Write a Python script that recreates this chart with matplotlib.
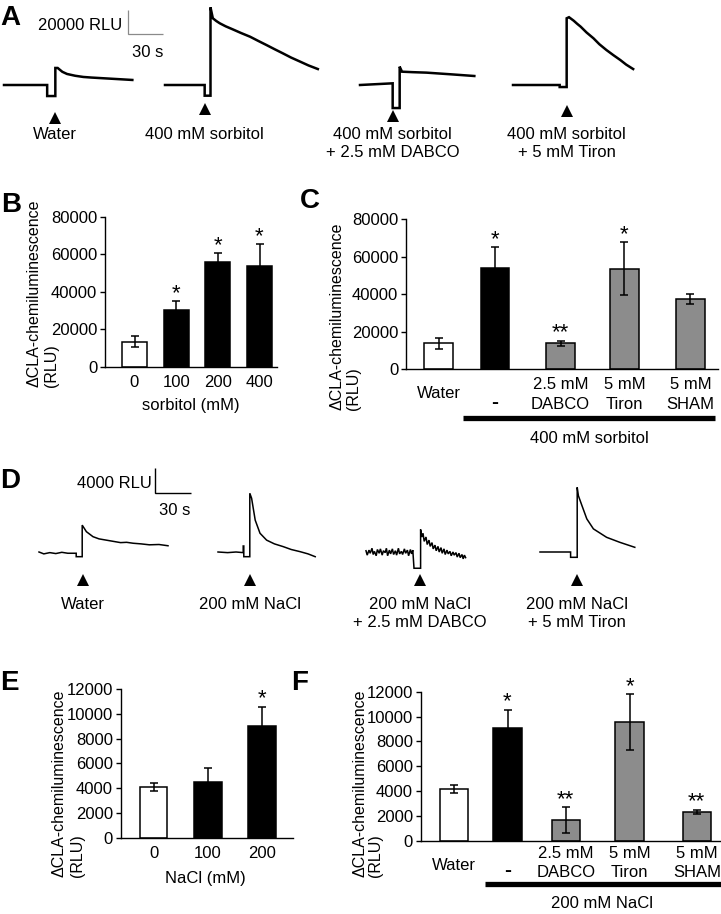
import numpy as np
import matplotlib
matplotlib.use("Agg")
import matplotlib.pyplot as plt
from matplotlib.lines import Line2D

plt.rcParams['font.family'] = ['Liberation Sans', 'DejaVu Sans']
plt.rcParams['axes.linewidth'] = 1.0
FS = 12

# ---------------- data ----------------
# Panel A: chemiluminescence traces (time in s, RLU above baseline)
a_water_t = [0, 37, 37, 44, 44, 46, 50, 54, 61, 68, 75, 82, 96, 110]
a_water_rlu = [0, 0, -9200, -9200, 14200, 14200, 11000, 9200, 7700, 6700, 6200, 5800, 5000, 4200]
a_sorb_t = [0, 34, 34, 39, 39, 41, 44, 47, 52, 58, 65, 73, 80, 87, 94, 101, 108, 116, 123, 131]
a_sorb_rlu = [0, 0, -8900, -8900, 64700, 55600, 53300, 51400, 48900, 46400, 43400, 40200, 36700,
              33300, 29800, 26400, 22900, 19400, 16300, 13300]
a_dabco_t = [0, 28, 28, 34, 34, 36, 45, 57, 78, 98]
a_dabco_rlu = [0, 1400, -19200, -19200, 15300, 11100, 10700, 10300, 8900, 7500]
a_tiron_t = [0, 40, 40, 46, 46, 48, 52, 55, 58, 63, 69, 74, 80, 86, 92, 97, 103]
a_tiron_rlu = [0, 0, -1700, -1700, 55600, 56500, 53600, 51000, 48600, 43800, 38900, 34000, 29200,
               24900, 20800, 17000, 13300]
a_inject_t = [44, 34, 28, 46]
a_labels = ["Water", "400 mM sorbitol", "400 mM sorbitol\n+ 2.5 mM DABCO",
            "400 mM sorbitol\n+ 5 mM Tiron"]

# Panel D: chemiluminescence traces (time in s, RLU above baseline)
d_water_t = [0, 4, 9, 14, 19, 24, 31, 31, 36, 36, 39.5, 45, 50, 56, 62, 68, 73, 78.5, 85, 92, 100, 107.5]
d_water_rlu = [0, -300, -100, -250, -50, -200, -200, -750, -750, 4300, 3250, 2450, 2100, 1900, 1700, 1500,
               1550, 1400, 1300, 1150, 1200, 1000]
d_nacl_t = [0, 8, 15, 21, 21, 21.5, 21.5, 26.5, 26.5, 28, 31, 35, 40.5, 47, 54.5, 61, 68.5, 75, 81]
d_nacl_rlu = [0, -100, 0, -100, 960, 960, -750, -750, 9400, 8600, 5100, 3000, 1900, 1300, 850, 400, 50, -300, -750]
d_dabco_t = [0, 1, 2.5, 3.5, 5, 6, 7, 8.5, 9.5, 11, 12, 13.5, 14.5, 16, 17, 18, 19.5, 20.5, 22, 23,
             24.5, 25.5, 27, 28, 29.5, 30.5, 32, 33, 34.5, 35.5, 37, 38, 39, 40, 45.5, 45.5, 46.5, 47.5,
             48.5, 50, 51, 52.5, 53.5, 55, 56, 57.5, 58.5, 60, 61, 62.5, 63.5, 65, 66, 67.5, 68.5, 70,
             71, 72.5, 73.5, 75, 76, 77.5, 78.5, 80, 81, 82, 83]
d_dabco_rlu = [200, -500, 300, -200, 600, -400, 100, -600, 400, -200, 500, -500, 200, -100, 600, -600,
               300, -300, 500, -400, 200, -500, 600, -300, 100, -400, 500, -200, 300, -600, 400, -300,
               300, -2600, -2600, 3600, 2400, 3000, 1700, 2400, 1200, 1900, 900, 1500, 500, 1100, 200,
               900, 0, 700, -200, 500, -400, 300, -300, 100, -600, 0, -500, -100, -800, -200, -900,
               -400, -1100, -500, -900]
d_tiron_t = [0, 25.5, 25.5, 31, 31, 32, 35, 39, 44.5, 55.5, 66.5, 79]
d_tiron_rlu = [0, 0, -850, -850, 10350, 9000, 7400, 5300, 3700, 2350, 1550, 750]
d_inject_t = [36.7, 26.7, 45, 30.8]
d_labels = ["Water", "200 mM NaCl", "200 mM NaCl\n+ 2.5 mM DABCO", "200 mM NaCl\n+ 5 mM Tiron"]

# Panel B: sorbitol dose response
b_cats = ["0", "100", "200", "400"]
b_mean = [13500, 30500, 56000, 54000]
b_err = [3000, 4500, 4800, 11500]
b_stars = ["", "*", "*", "*"]

# Panel C: 400 mM sorbitol + inhibitors
c_cats = ["Water", "-", "2.5 mM\nDABCO", "5 mM\nTiron", "5 mM\nSHAM"]
c_mean = [13700, 53900, 13700, 53700, 37200]
c_err = [2800, 11300, 1500, 14000, 2700]
c_stars = ["", "*", "**", "*", ""]

# Panel E: NaCl dose response
e_cats = ["0", "100", "200"]
e_mean = [4100, 4470, 9040]
e_err = [330, 1180, 1530]
e_stars = ["", "", "*"]

# Panel F: 200 mM NaCl + inhibitors
f_cats = ["Water", "-", "2.5 mM\nDABCO", "5 mM\nTiron", "5 mM\nSHAM"]
f_mean = [4200, 9050, 1700, 9550, 2350]
f_err = [330, 1500, 1050, 2250, 170]
f_stars = ["", "*", "**", "*", "**"]

WHITE, BLACK, GRAY = "#ffffff", "#000000", "#8c8c8c"

# ---------------- layout helpers ----------------
W, H = 721, 914
fig = plt.figure(figsize=(W / 100, H / 100), dpi=100)


def fx(x):
    return x / W


def fy(y):
    return 1 - y / H


def add_ax(l, t, r, b):
    return fig.add_axes([fx(l), fy(b), (r - l) / W, (b - t) / H])


def ftext(x, y, s, **kw):
    kw.setdefault('fontsize', FS)
    return fig.text(fx(x), fy(y), s, **kw)


def trace_row(top, bot, base, pps, rpp, starts, traces, injects, labels, tri_y, lab_y, lw):
    ax = add_ax(0, top, W, bot)
    ax.set_xlim(0, W / pps)
    ax.set_ylim(-(bot - base) * rpp, (base - top) * rpp)
    ax.axis('off')
    for (t, r), s0, tinj, lab, ty in zip(traces, starts, injects, labels, tri_y):
        ax.plot(np.asarray(t) + s0 / pps, r, color='k', lw=lw, solid_joinstyle='miter')
        ax.plot([s0 / pps + tinj], [(base - ty) * rpp], marker='^', ms=9, color='k',
                mew=0, ls='none')
        xpx = s0 + tinj * pps
        for i, line in enumerate(lab.split('\n')):
            ftext(xpx, lab_y[i], line, ha='center', va='baseline')
    return ax


def scale_bar(ax, xpx, ybot, base, pps, rpp, rlu, sec, color, lw):
    x0 = xpx / pps
    y0 = (base - ybot) * rpp
    ax.plot([x0, x0, x0 + sec], [y0 + rlu, y0, y0], color=color, lw=lw,
            solid_joinstyle='miter', solid_capstyle='butt')


def bar_panel(l, t, r, b, pos, xlim, width, means, errs, colors, ymax, step, stars, capsize):
    ax = add_ax(l, t, r, b)
    ax.bar(pos, means, width=width, color=colors, edgecolor='k', linewidth=1.1, zorder=2)
    ax.errorbar(pos, means, yerr=errs, fmt='none', ecolor='k', elinewidth=1.1,
                capsize=capsize, capthick=1.1, zorder=3)
    for p, m, e, s in zip(pos, means, errs, stars):
        if s:
            ax.annotate(s, (p, m + e), xytext=(0, 1.5), textcoords='offset points',
                        ha='center', va='baseline', fontsize=16)
    ax.set_xlim(*xlim)
    ax.set_ylim(0, ymax)
    ax.set_yticks(np.arange(0, ymax + 1, step))
    ax.set_xticks([])
    for sp in ['top', 'right']:
        ax.spines[sp].set_visible(False)
    ax.tick_params(axis='y', direction='out', length=3.5, width=1.0, pad=2, labelsize=FS)
    ax.patch.set_alpha(0)
    return ax


def xpx_of(ax, p):
    return ax.transData.transform((p, 0))[0]


def cat_labels(ax, pos, cats, y_single, y1, y2):
    for p, c in zip(pos, cats):
        x = xpx_of(ax, p)
        lines = c.split('\n')
        if c == '-':
            ftext(x, y2 - 1, c, ha='center', va='baseline', fontweight='bold', fontsize=15)
        elif len(lines) == 1:
            ftext(x, y_single, c, ha='center', va='baseline')
        else:
            ftext(x, y1, lines[0], ha='center', va='baseline')
            ftext(x, y2, lines[1], ha='center', va='baseline')


YLAB = ["\u0394CLA-chemiluminescence", "(RLU)"]


def ylabel(x1, x2, ybot):
    for s, x in zip(YLAB, (x1, x2)):
        ftext(x, ybot, s, rotation=90, ha='center', va='bottom', fontsize=11.5)


# ---------------- panel A ----------------
A_PPS, A_RPP, A_BASE = 35 / 30, 20000 / 24, 85
axA = trace_row(0, 130, A_BASE, A_PPS, A_RPP, [4, 165, 360, 513],
                [(a_water_t, a_water_rlu), (a_sorb_t, a_sorb_rlu),
                 (a_dabco_t, a_dabco_rlu), (a_tiron_t, a_tiron_rlu)],
                a_inject_t, a_labels, [118, 109, 116, 111], [139, 157], 1.8)
scale_bar(axA, 128, 34, A_BASE, A_PPS, A_RPP, 20000, 30, '#8a8a8a', 0.9)
ftext(122, 30, "20000 RLU", ha='right', va='baseline')
ftext(163, 57, "30 s", ha='right', va='baseline')

# ---------------- panel D ----------------
D_PPS, D_RPP, D_BASE = 36 / 30, 4000 / 25, 552
axD = trace_row(440, 600, D_BASE, D_PPS, D_RPP, [39, 218, 366, 540],
                [(d_water_t, d_water_rlu), (d_nacl_t, d_nacl_rlu),
                 (d_dabco_t, d_dabco_rlu), (d_tiron_t, d_tiron_rlu)],
                d_inject_t, d_labels, [580, 580, 580, 580], [609, 627], 1.1)
scale_bar(axD, 155, 493, D_BASE, D_PPS, D_RPP, 4000, 30, 'k', 1.0)
ftext(152, 488, "4000 RLU", ha='right', va='baseline')
ftext(190, 515, "30 s", ha='right', va='baseline')

# ---------------- panel B ----------------
b_pos = np.arange(len(b_cats))
axB = bar_panel(105, 217, 277, 367, b_pos, (-0.708, 3.42), 0.6, b_mean, b_err,
                [WHITE, BLACK, BLACK, BLACK], 80000, 20000, b_stars, 3)
for p, c in zip(b_pos, b_cats):
    ftext(xpx_of(axB, p), 387, c, ha='center', va='baseline')
ftext(191, 410, "sorbitol (mM)", ha='center', va='baseline')
ylabel(34, 51, 387)

# ---------------- panel C ----------------
c_pos = [0, 0.897, 1.937, 2.952, 4]
axC = bar_panel(406, 219.3, 718, 369, c_pos, (-0.516, 4.437), 0.46, c_mean, c_err,
                [WHITE, BLACK, GRAY, GRAY, GRAY], 80000, 20000, c_stars, 3)
cat_labels(axC, c_pos, c_cats, 398, 389, 409)
fig.add_artist(Line2D([fx(463), fx(715)], [fy(418), fy(418)], lw=3.8, color='k',
                      solid_capstyle='butt'))
ftext(589, 443, "400 mM sorbitol", ha='center', va='baseline')
ylabel(337, 353, 410)

# ---------------- panel E ----------------
e_pos = np.arange(len(e_cats))
axE = bar_panel(120.7, 689, 293, 837.7, e_pos, (-0.605, 2.571), 0.507, e_mean, e_err,
                [WHITE, BLACK, BLACK], 12000, 2000, e_stars, 3)
for p, c in zip(e_pos, e_cats):
    ftext(xpx_of(axE, p), 858, c, ha='center', va='baseline')
ftext(205, 883, "NaCl (mM)", ha='center', va='baseline')
ylabel(59, 77, 877)

# ---------------- panel F ----------------
f_pos = [0, 0.884, 1.844, 2.893, 4]
axF = bar_panel(420.7, 691.7, 720, 841, f_pos, (-0.545, 4.382), 0.47, f_mean, f_err,
                [WHITE, BLACK, GRAY, GRAY, GRAY], 12000, 2000, f_stars, 3)
cat_labels(axF, f_pos, f_cats, 870, 858, 877)
fig.add_artist(Line2D([fx(485), fx(721)], [fy(884), fy(884)], lw=3.8, color='k',
                      solid_capstyle='butt'))
ftext(602, 908, "200 mM NaCl", ha='center', va='baseline')
ylabel(360, 376, 877)

# ---------------- panel letters ----------------
for lab, x, y in [("A", 0, 25), ("B", 1, 212), ("C", 300, 208), ("D", 0, 488),
                  ("E", 0, 690), ("F", 291, 690)]:
    ftext(x, y, lab, ha='left', va='baseline', fontsize=20, fontweight='bold')

fig.savefig("out.png", dpi=100)
